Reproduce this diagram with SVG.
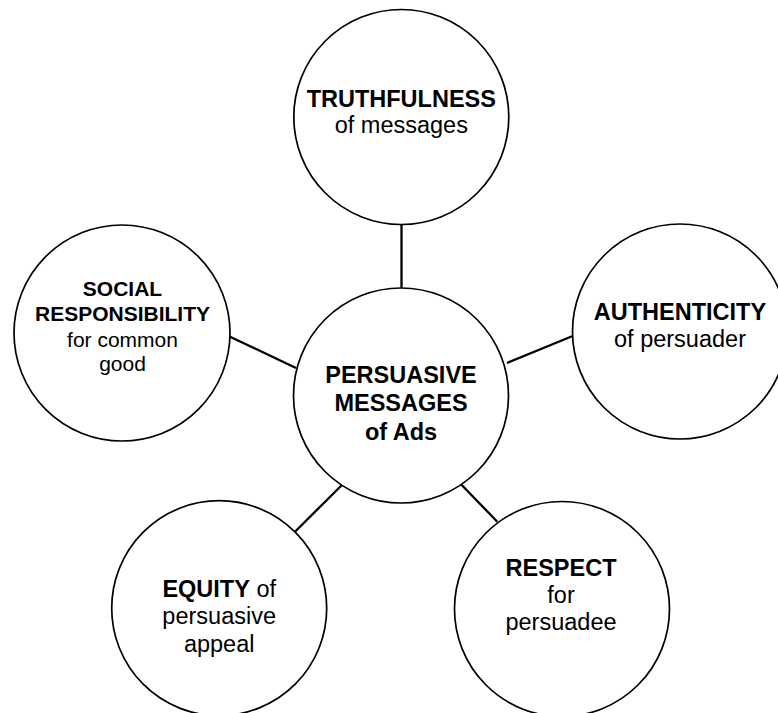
<svg xmlns="http://www.w3.org/2000/svg" width="778" height="713" viewBox="0 0 778 713">
<style>
.c{fill:#fff;stroke:#000;stroke-width:1.7}
.l{stroke:#000;stroke-width:2.3;fill:none}
text{font-family:"Liberation Sans",Arial,sans-serif;font-size:23.5px;text-anchor:middle;fill:#000}
.b{font-weight:bold}
.s{font-size:21px}
</style>
<rect width="778" height="713" fill="#fff"/>
<g id="connectors">
<line class="l" x1="401.5" y1="223" x2="401.5" y2="288"/>
<line class="l" x1="230" y1="336.7" x2="296" y2="368"/>
<line class="l" x1="507" y1="363" x2="572.7" y2="336"/>
<line class="l" x1="342.7" y1="484.3" x2="295" y2="531.7"/>
<line class="l" x1="460" y1="483.3" x2="497.3" y2="521.7"/>
</g>
<g id="center">
<circle class="c" cx="401" cy="395.5" r="107.5"/>
<text class="b" x="401" y="383.3">PERSUASIVE</text>
<text class="b" x="401" y="411">MESSAGES</text>
<text class="b" x="401" y="440">of Ads</text>
</g>
<g id="truthfulness">
<circle class="c" cx="401.3" cy="117" r="107.5"/>
<text class="b" x="401.3" y="107.3">TRUTHFULNESS</text>
<text x="401.3" y="133">of messages</text>
</g>
<g id="authenticity">
<circle class="c" cx="680" cy="331.5" r="107.5"/>
<text class="b" x="680" y="320">AUTHENTICITY</text>
<text x="680" y="346.7">of persuader</text>
</g>
<g id="social">
<circle class="c" cx="122" cy="333" r="108"/>
<text class="b s" x="122.5" y="296">SOCIAL</text>
<text class="b s" x="122.5" y="321">RESPONSIBILITY</text>
<text class="s" x="122.5" y="346.5">for common</text>
<text class="s" x="122.5" y="371">good</text>
</g>
<g id="equity">
<circle class="c" cx="219.2" cy="608.2" r="107.5"/>
<text x="219.2" y="596.7"><tspan class="b">EQUITY</tspan> of</text>
<text x="219.2" y="624">persuasive</text>
<text x="219.2" y="651.7">appeal</text>
</g>
<g id="respect">
<circle class="c" cx="562" cy="609" r="107.5"/>
<text class="b" x="561" y="576">RESPECT</text>
<text x="561" y="603.3">for</text>
<text x="561" y="629.5">persuadee</text>
</g>
</svg>
